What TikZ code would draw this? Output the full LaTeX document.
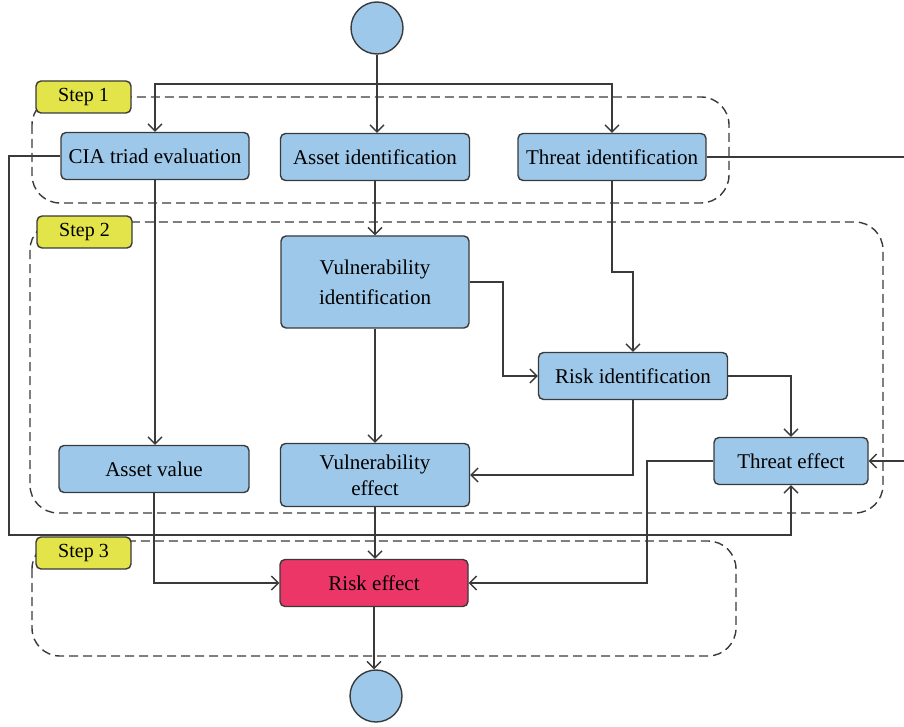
\documentclass[tikz,border=0pt]{standalone}
\usepackage{fontspec}
\setmainfont{Liberation Serif}
\usetikzlibrary{arrows.meta}
\definecolor{boxblue}{HTML}{9DC8E9}
\definecolor{boxline}{HTML}{3A3A3A}
\definecolor{stepyellow}{HTML}{E3E34A}
\definecolor{riskred}{HTML}{EC3668}
\tikzset{
  proc/.style={draw=boxline, line width=1.4pt, fill=boxblue, rounded corners=5pt,
    align=center, inner sep=0pt, font=\fontsize{21}{26}\selectfont, text=black},
  endpt/.style={circle, draw=boxline, line width=1.4pt, fill=boxblue, minimum size=52pt, inner sep=0pt},
  steplabel/.style={draw=boxline, line width=1.4pt, fill=stepyellow, rounded corners=5pt,
    minimum width=95pt, minimum height=32pt, inner sep=0pt, font=\fontsize{20}{22}\selectfont},
  stepframe/.style={draw=boxline, line width=1.4pt, dash pattern=on 9pt off 5pt, rounded corners=28pt},
  conn/.style={draw=boxline, line width=1.3pt},
  arr/.style={conn, -{Straight Barb[length=7pt,width=14pt]}}
}
\begin{document}
\begin{tikzpicture}[x=1pt,y=-1pt]
\useasboundingbox (0,0) rectangle (904,727);
% step frames
\draw[stepframe] (32,97) rectangle (729,203);
\draw[stepframe] (30,222) rectangle (883,513);
\draw[stepframe] (32,541) rectangle (736,656);
\node[steplabel] (s1) at (83.5,97) {Step 1};
\node[steplabel] (s2) at (84.5,232) {Step 2};
\node[steplabel] (s3) at (83.5,553) {Step 3};
% nodes
\node[endpt] (start) at (377,28) {};
\node[proc, minimum width=188pt, minimum height=47pt] (cia) at (155,156) {CIA triad evaluation};
\node[proc, minimum width=189pt, minimum height=47pt] (asset) at (375,157) {Asset identification};
\node[proc, minimum width=188pt, minimum height=47pt] (threat) at (612,157) {Threat identification};
\node[proc, minimum width=188pt, minimum height=92pt] (vulnid) at (375,282) {Vulnerability\\[4pt]identification};
\node[proc, minimum width=189pt, minimum height=47pt] (risk) at (633,376) {Risk identification};
\node[proc, minimum width=190pt, minimum height=47pt] (assetval) at (154,469) {Asset value};
\node[proc, minimum width=189pt, minimum height=63pt] (vulneff) at (375,475) {Vulnerability\\effect};
\node[proc, minimum width=154pt, minimum height=47pt] (threff) at (791,461) {Threat effect};
\node[proc, fill=riskred, minimum width=188pt, minimum height=47pt] (riskeff) at (374,583) {Risk effect};
\node[endpt] (end) at (376,696) {};
% helper coordinates
\coordinate (br) at (377,84);
\coordinate (rx) at (914,0);
\coordinate (lx) at (9,535);
\coordinate (c1) at (503,0);
\coordinate (j) at (0,272);
\coordinate (c2) at (647,0);
% connectors
\draw[arr] (start.south) -- (start.south |- asset.north);
\draw[arr] (br) -| (cia.north);
\draw[arr] (br) -| (threat.north);
\draw[arr] (threat.east) -- (threat.east -| rx) -- (threff.east -| rx) -- (threff.east);
\draw[arr] (cia.west) -- (cia.west -| lx) -- (lx) -- (lx -| threff.south) -- (threff.south);
\draw[arr] (cia.south) -- (cia.south |- assetval.north);
\draw[arr] (asset.south) -- (asset.south |- vulnid.north);
\draw[arr] (vulnid.east) -- (vulnid.east -| c1) -- (c1 |- risk.west) -- (risk.west);
\draw[arr] (threat.south) -- (threat.south |- j) -- (j -| risk.north) -- (risk.north);
\draw[arr] (risk.east) -| (threff.north);
\draw[arr] (risk.south) |- (vulneff.east);
\draw[arr] (vulnid.south) -- (vulnid.south |- vulneff.north);
\draw[arr] (threff.west) -- (threff.west -| c2) |- (riskeff.east);
\draw[arr] (vulneff.south) -- (vulneff.south |- riskeff.north);
\draw[arr] (assetval.south) |- (riskeff.west);
\draw[arr] (riskeff.south) -- (riskeff.south |- end.north);
\end{tikzpicture}
\end{document}
